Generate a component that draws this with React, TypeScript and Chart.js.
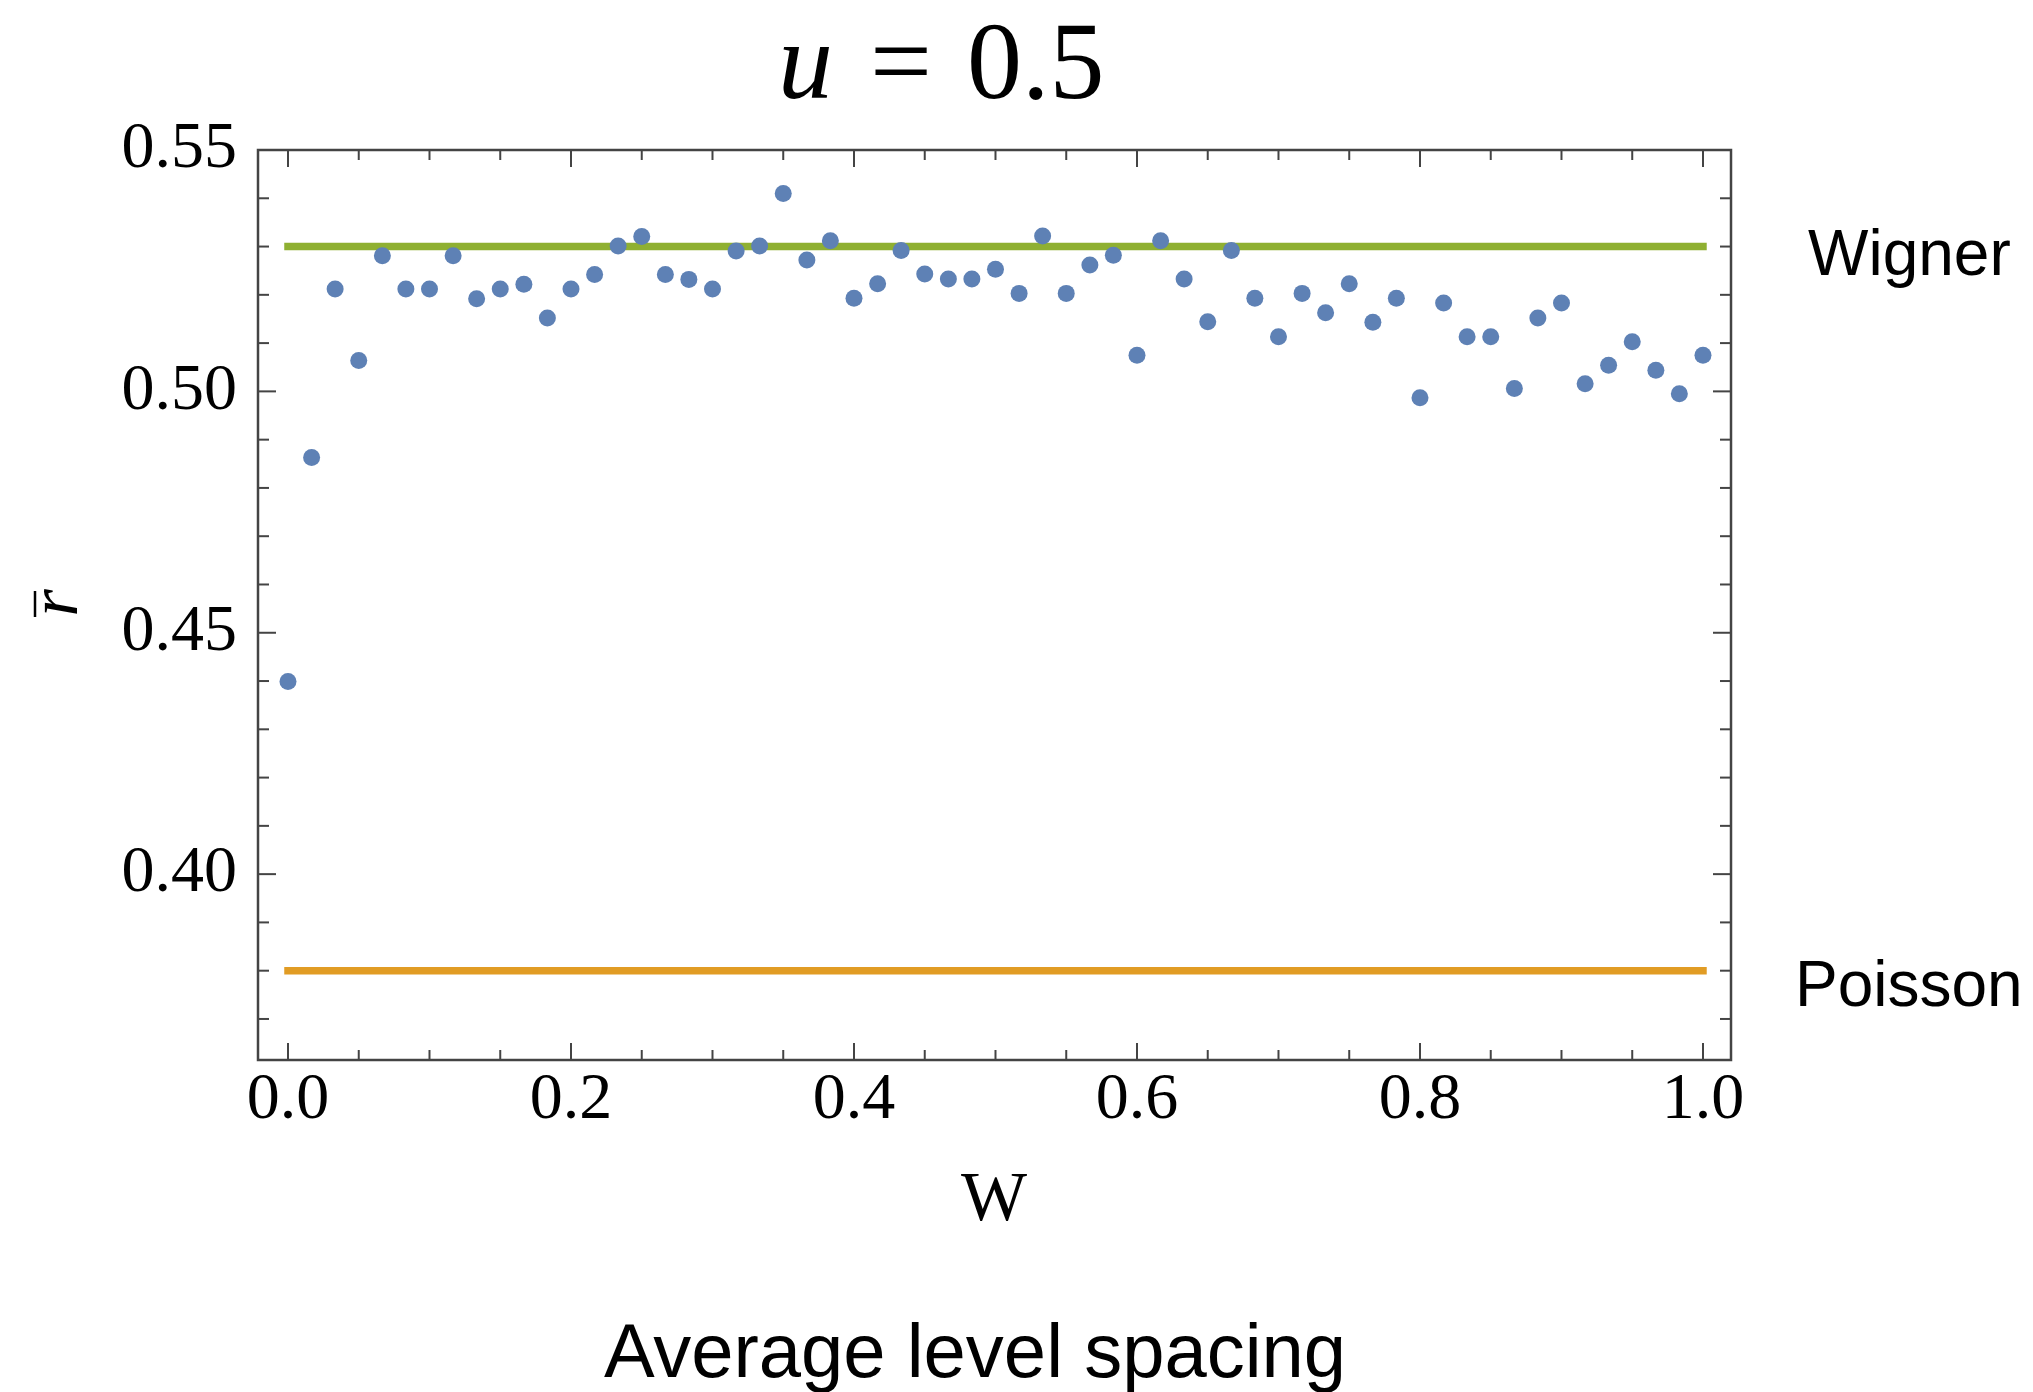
import React, { useEffect, useRef } from "react";
import { Chart, registerables } from "chart.js";

Chart.register(...registerables);

// ---- data ----
const wValues = [
  0, 0.0167, 0.0333, 0.05, 0.0667, 0.0833, 0.1, 0.1167, 0.1333, 0.15,
  0.1667, 0.1833, 0.2, 0.2167, 0.2333, 0.25, 0.2667, 0.2833, 0.3, 0.3167,
  0.3333, 0.35, 0.3667, 0.3833, 0.4, 0.4167, 0.4333, 0.45, 0.4667, 0.4833,
  0.5, 0.5167, 0.5333, 0.55, 0.5667, 0.5833, 0.6, 0.6167, 0.6333, 0.65,
  0.6667, 0.6833, 0.7, 0.7167, 0.7333, 0.75, 0.7667, 0.7833, 0.8, 0.8167,
  0.8333, 0.85, 0.8667, 0.8833, 0.9, 0.9167, 0.9333, 0.95, 0.9667, 0.9833, 1.0,
];
const rValues = [
  0.4399, 0.4863, 0.5212, 0.5064, 0.5281, 0.5212, 0.5212, 0.5281, 0.5192, 0.5212,
  0.5222, 0.5152, 0.5212, 0.5242, 0.5301, 0.5321, 0.5242, 0.5232, 0.5212, 0.5291,
  0.5301, 0.541, 0.5272, 0.5312, 0.5193, 0.5223, 0.5292, 0.5243, 0.5233, 0.5233,
  0.5253, 0.5203, 0.5322, 0.5203, 0.5262, 0.5282, 0.5075, 0.5312, 0.5233, 0.5144,
  0.5292, 0.5193, 0.5113, 0.5203, 0.5163, 0.5223, 0.5143, 0.5193, 0.4987, 0.5183,
  0.5113, 0.5113, 0.5006, 0.5152, 0.5183, 0.5016, 0.5054, 0.5103, 0.5044, 0.4995, 0.5075,
];
const wignerLevel = 0.53;
const poissonLevel = 0.38;
const lineSpan = [0, 1];
const xTickLabels = [0, 0.2, 0.4, 0.6, 0.8, 1.0];
const yTickLabels = [0.4, 0.45, 0.5, 0.55];
const xMinorTicks = [0.05, 0.1, 0.15, 0.25, 0.3, 0.35, 0.45, 0.5, 0.55, 0.65, 0.7, 0.75, 0.85, 0.9, 0.95];
const yMinorTicks = [0.37, 0.38, 0.39, 0.41, 0.42, 0.43, 0.44, 0.46, 0.47, 0.48, 0.49, 0.51, 0.52, 0.53, 0.54];

const titleText = { variable: "u", rest: "0.5" };
const xTitle = "W";
const yTitle = "r";
const wignerLabel = "Wigner";
const poissonLabel = "Poisson";
const caption = "Average level spacing";

const SERIF = "'Liberation Serif', 'Times New Roman', Times, serif";
const SANS = "'Liberation Sans', Arial, Helvetica, sans-serif";
const FRAME = "#444444";

const framePlugin = {
  id: "mmaFrame",
  afterDatasetsDraw(chart: any) {
    const { ctx, chartArea: a, scales } = chart;
    const xs = scales.x;
    const ys = scales.y;
    ctx.save();
    ctx.strokeStyle = FRAME;
    ctx.lineWidth = 2;
    const seg = (x1: number, y1: number, x2: number, y2: number) => {
      ctx.beginPath();
      ctx.moveTo(x1, y1);
      ctx.lineTo(x2, y2);
      ctx.stroke();
    };
    const xTick = (v: number, len: number) => {
      const p = xs.getPixelForValue(v);
      seg(p, a.bottom, p, a.bottom - len);
      seg(p, a.top, p, a.top + len);
    };
    const yTick = (v: number, len: number) => {
      const p = ys.getPixelForValue(v);
      seg(a.left, p, a.left + len, p);
      seg(a.right, p, a.right - len, p);
    };
    xTickLabels.forEach((v) => xTick(v, 17));
    xMinorTicks.forEach((v) => xTick(v, 10));
    yTickLabels.forEach((v) => yTick(v, 18));
    yMinorTicks.forEach((v) => yTick(v, 11));
    ctx.lineWidth = 2.5;
    ctx.strokeRect(a.left, a.top, a.right - a.left, a.bottom - a.top);
    ctx.restore();
  },
  afterDraw(chart: any) {
    const { ctx } = chart;
    ctx.save();
    ctx.fillStyle = "#000";
    ctx.textBaseline = "alphabetic";
    // title
    ctx.font = `italic 110px ${SERIF}`;
    ctx.textAlign = "left";
    ctx.fillText(titleText.variable, 778, 98);
    ctx.font = `110px ${SERIF}`;
    ctx.textAlign = "center";
    ctx.fillText("=", 901, 98);
    ctx.textAlign = "left";
    ctx.fillText(titleText.rest, 967, 98);
    // x title
    ctx.font = `70px ${SERIF}`;
    ctx.textAlign = "center";
    ctx.fillText(xTitle, 994, 1220);
    // y title (rotated r with bar)
    ctx.save();
    ctx.translate(77, 603);
    ctx.rotate(-Math.PI / 2);
    ctx.font = `italic 70px ${SERIF}`;
    ctx.textAlign = "center";
    ctx.fillText(yTitle, 0, 0);
    ctx.restore();
    ctx.strokeStyle = "#000";
    ctx.lineWidth = 2.5;
    ctx.beginPath();
    ctx.moveTo(35, 591);
    ctx.lineTo(35, 617);
    ctx.stroke();
    // side labels
    ctx.font = `64px ${SANS}`;
    ctx.textAlign = "left";
    ctx.fillText(wignerLabel, 1808, 275);
    ctx.fillText(poissonLabel, 1795, 1006);
    // caption
    ctx.font = `76px ${SANS}`;
    ctx.textAlign = "center";
    ctx.fillText(caption, 975, 1377);
    ctx.restore();
  },
};

export default function App() {
  const canvasRef = useRef<HTMLCanvasElement | null>(null);

  useEffect(() => {
    document.body.style.margin = "0";
    document.body.style.overflow = "hidden";
    const canvas = canvasRef.current;
    if (!canvas) return;
    const chart = new Chart(canvas, {
      type: "scatter",
      data: {
        datasets: [
          {
            label: "r",
            data: wValues.map((w, i) => ({ x: w, y: rValues[i] })),
            pointRadius: 8.5,
            pointHoverRadius: 8.5,
            pointBackgroundColor: "#5E81B5",
            pointBorderWidth: 0,
            borderWidth: 0,
            showLine: false,
            order: 0,
          },
          {
            label: "Wigner",
            data: lineSpan.map((x) => ({ x, y: wignerLevel })),
            showLine: true,
            borderColor: "#8FB032",
            borderWidth: 7.5,
            borderCapStyle: "square",
            pointRadius: 0,
            order: 1,
          },
          {
            label: "Poisson",
            data: lineSpan.map((x) => ({ x, y: poissonLevel })),
            showLine: true,
            borderColor: "#E19C24",
            borderWidth: 7.5,
            borderCapStyle: "square",
            pointRadius: 0,
            order: 2,
          },
        ],
      } as any,
      options: {
        responsive: false,
        animation: false,
        events: [],
        layout: { padding: { top: 150, right: 302, left: 0, bottom: 0 } },
        plugins: {
          legend: { display: false },
          tooltip: { enabled: false },
          title: { display: false },
        },
        scales: {
          x: {
            type: "linear",
            min: -0.0212,
            max: 1.0198,
            grid: { display: false, drawTicks: false },
            border: { display: false },
            afterBuildTicks: (s: any) => {
              s.ticks = xTickLabels.map((v) => ({ value: v }));
            },
            afterFit: (s: any) => {
              s.height = 332;
            },
            ticks: {
              color: "#000",
              font: { family: SERIF, size: 66, lineHeight: 1 },
              padding: 8,
              maxRotation: 0,
              minRotation: 0,
              autoSkip: false,
              callback: (v: any) => Number(v).toFixed(1),
            },
          },
          y: {
            type: "linear",
            min: 0.3615,
            max: 0.55,
            grid: { display: false, drawTicks: false },
            border: { display: false },
            afterBuildTicks: (s: any) => {
              s.ticks = yTickLabels.map((v) => ({ value: v }));
            },
            afterFit: (s: any) => {
              s.width = 258;
            },
            ticks: {
              color: "#000",
              font: { family: SERIF, size: 66, lineHeight: 1 },
              padding: 21,
              autoSkip: false,
              callback: (v: any) => Number(v).toFixed(2),
            },
          },
        },
      } as any,
      plugins: [framePlugin],
    });
    return () => chart.destroy();
  }, []);

  return (
    <div style={{ position: "absolute", left: 0, top: 0, width: 2033, height: 1392, background: "#fff" }}>
      <canvas ref={canvasRef} width={2033} height={1392} style={{ display: "block", width: 2033, height: 1392 }} />
    </div>
  );
}
